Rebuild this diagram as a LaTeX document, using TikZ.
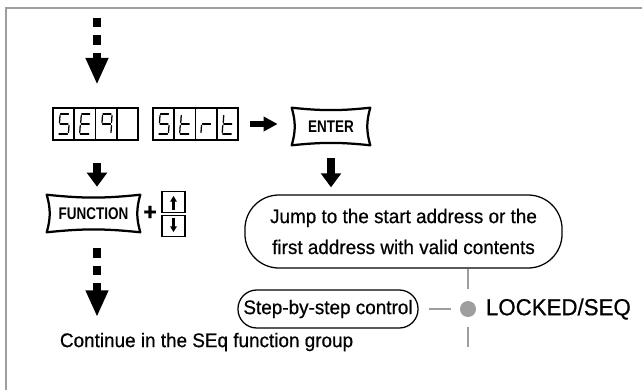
\documentclass[tikz,border=0pt]{standalone}
\usepackage{fontspec}
\setmainfont{Liberation Sans}[FakeStretch=0.96, FakeBold=0.6]
\newfontfamily\keyfont{Liberation Sans}[FakeStretch=0.8]
\usetikzlibrary{arrows.meta}

% segments of one cell of the display (cell is 21 x 32)
\tikzset{
  segline/.style={line width=0.9pt, line cap=round},
  seg/a/.code={\draw[segline] (7.5,6) -- (15.5,6);},
  seg/b/.code={\draw[segline] (16.5,7.5) -- (16,14.5);},
  seg/c/.code={\draw[segline] (16,17.5) -- (15.5,24.5);},
  seg/d/.code={\draw[segline] (6,26) -- (14.5,26);},
  seg/e/.code={\draw[segline] (6,17.5) -- (5.5,24.5);},
  seg/f/.code={\draw[segline] (7,7.5) -- (6.5,14.5);},
  seg/g/.code={\draw[segline] (7,16) -- (15,16);},
}
\newcommand{\segcell}[3]{%
  \begin{scope}[shift={(#1,#2)}]
    \draw[line width=1.3pt] (0,0) rectangle (21.25,32);
    \foreach \s in {#3} {\tikzset{seg/\s}}
  \end{scope}}

\begin{document}
\begin{tikzpicture}[x=0.025cm, y=-0.025cm,
  display/.style={minimum width=2.125cm, minimum height=0.8cm, inner sep=0pt},
  keycap/.style={minimum width=#1, minimum height=0.925cm, inner sep=0pt,
    font=\keyfont\fontsize{12}{12}\selectfont\bfseries},
  keyline/.style={line width=1.6pt, line join=round},
  arrowkey/.style={draw, line width=1.3pt, minimum width=0.575cm, minimum height=0.525cm, inner sep=0pt},
  bigarrow/.style={line width=5pt, -{Triangle[length=19pt, width=15pt]}},
  dasharrow/.style={bigarrow, dash pattern=on 6.7pt off 5.7pt},
  smallarrow/.style={line width=5pt, -{Triangle[length=10pt, width=14pt]}},
  pill/.style={draw, line width=0.9pt, inner sep=0pt},
  txt/.style={font=\fontsize{14}{22}\selectfont},
  greyline/.style={line width=1.2pt, draw=black!38},
]
\useasboundingbox (0,0) rectangle (642,389);

%--- frame ---
\draw[line width=1.2pt, black!38] (6,395) -- (6,8) -- (650,8);

%--- displays ---
\node[display] (seq) at (95.5,124) {};
\node[display] (strt) at (195.5,124) {};
\segcell{53}{108}{a,f,g,c,d}
\segcell{74.25}{108}{a,f,g,e,d}
\segcell{95.5}{108}{a,b,f,g,c}
\segcell{116.75}{108}{}
\segcell{153}{108}{a,f,g,c,d}
\segcell{174.25}{108}{f,e,g,d}
\segcell{195.5}{108}{e,g}
\segcell{216.75}{108}{f,e,g,d}

%--- keys ---
\node[keycap=1.95cm] (enter) at (331,126.5) {ENTER};
\node[keycap=2.325cm] (fn) at (93.5,213.5) {FUNCTION};
\foreach \k in {enter,fn} {
  \draw[keyline] (\k.north west) to[bend right=6] (\k.north east)
    to[bend right=16] (\k.south east) to[bend right=6] (\k.south west)
    to[bend right=16] cycle;
}
\node[font=\fontsize{17}{17}\selectfont\bfseries] (plus) at (150,213) {+};
\node[arrowkey] (up) at (173.5,202) {};
\node[arrowkey] (down) at (173.5,226) {};
\draw[line width=1.6pt, -{Triangle[length=4pt, width=4.5pt]}] (up.south) ++(0,-3.5) -- ++(0,-14);
\draw[line width=1.6pt, -{Triangle[length=4pt, width=4.5pt]}] (down.north) ++(0,3.5) -- ++(0,14);

%--- boxes and labels ---
\node[pill, rounded corners=0.85cm, minimum width=7.925cm, minimum height=1.825cm, txt, align=center]
  (jump) at (403.5,231.5) {Jump to the start address or the\\first address with valid contents};
\node[pill, rounded corners=0.47cm, minimum width=4.5cm, minimum height=0.95cm, txt]
  (step) at (328,309) {Step-by-step control};
\node[circle, fill=black!38, minimum size=0.4cm, inner sep=0pt] (dot) at (468,309) {};
\node[anchor=west, font=\fontsize{16.5}{17}\selectfont] (locked) at (481,309) {LOCKED/SEQ};
\node[anchor=west, txt] (cont) at (55,342) {Continue in the SEq function group};

%--- arrows ---
\coordinate (top) at (97,18);
\coordinate (bottom) at (97,317);
\coordinate (lineend) at (468,347);
\draw[dasharrow, shorten >=16.4pt] (top) -- (top |- seq.north);
\draw[smallarrow, shorten <=16.4pt, shorten >=5.7pt] (seq.south -| top) -- (fn.north -| top);
\draw[dasharrow, shorten <=11.4pt] (fn.south -| top) -- (bottom);
\draw[smallarrow, line width=3.8pt, -{Triangle[length=10pt, width=10pt]}, shorten <=8.5pt, shorten >=10pt] (strt.east) -- (enter.west |- strt.east);
\draw[smallarrow, shorten <=9.2pt, shorten >=5pt] (enter.south) -- (enter.south |- jump.north);

%--- grey connectors ---
\draw[greyline, shorten >=8.5pt] (dot |- jump.south) -- (dot.north);
\draw[greyline, shorten <=7pt] (dot.south) -- (lineend);
\draw[greyline, shorten <=7pt, shorten >=6.4pt] (step.east) -- (dot.west);

\end{tikzpicture}
\end{document}
